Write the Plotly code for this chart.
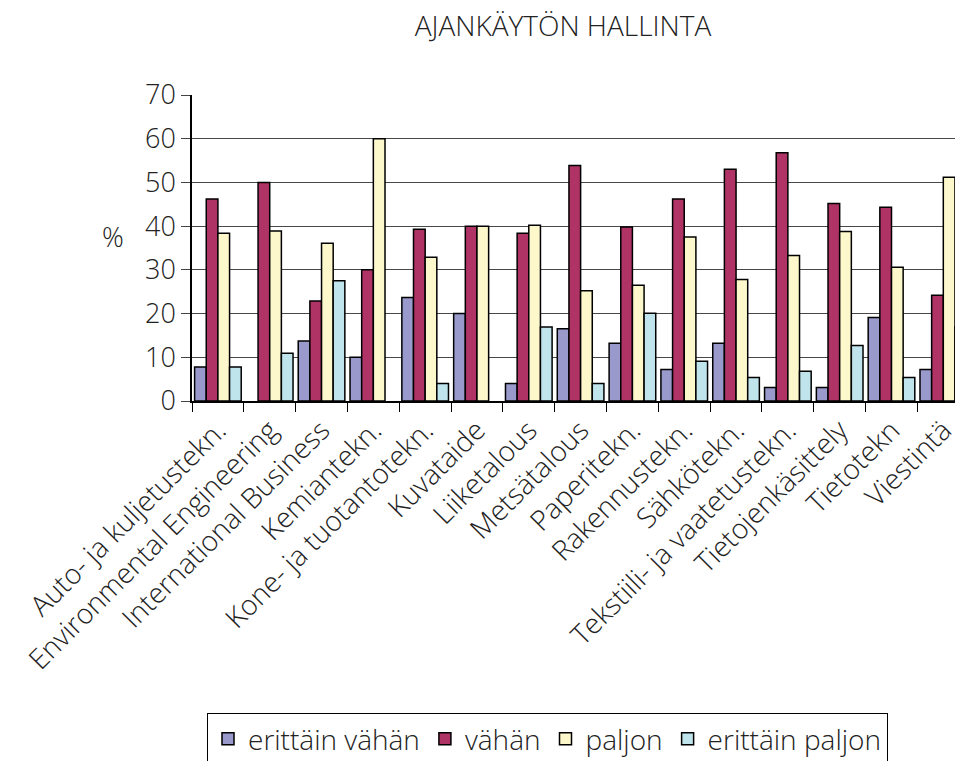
import plotly.graph_objects as go

categories = [
    "Auto- ja kuljetustekn.",
    "Environmental Engineering",
    "International Business",
    "Kemiantekn.",
    "Kone- ja tuotantotekn.",
    "Kuvataide",
    "Liiketalous",
    "Metsätalous",
    "Paperitekn.",
    "Rakennustekn.",
    "Sähkötekn.",
    "Tekstiili- ja vaatetustekn.",
    "Tietojenkäsittely",
    "Tietotekn",
    "Viestintä",
]

# None = no bar drawn (0 %)
erittain_vahan = [7.8, None, 13.7, 10.0, 23.7, 20.0, 4.0, 16.5, 13.2, 7.2, 13.2, 3.1, 3.1, 19.1, 7.2]
vahan = [46.2, 50.0, 22.9, 30.0, 39.3, 40.0, 38.4, 53.9, 39.8, 46.2, 53.0, 56.8, 45.2, 44.3, 24.2]
paljon = [38.4, 38.9, 36.1, 60.0, 32.9, 40.0, 40.2, 25.2, 26.5, 37.5, 27.8, 33.3, 38.8, 30.6, 51.2]
erittain_paljon = [7.8, 10.9, 27.5, None, 4.0, None, 16.9, 4.0, 20.1, 9.1, 5.4, 6.8, 12.7, 5.4, 16.9]

series = [
    ("erittäin vähän", erittain_vahan, "#9999CC"),
    ("vähän", vahan, "#B03366"),
    ("paljon", paljon, "#FDF8CC"),
    ("erittäin paljon", erittain_paljon, "#C0E4EC"),
]

font_family = "Open Sans, Noto Sans, sans-serif"

W, H = 955, 753  # page body adds an 8px offset; figure fills the rest of the window

fig = go.Figure()
for name, vals, color in series:
    fig.add_trace(
        go.Bar(
            x=categories,
            y=vals,
            name=name,
            marker=dict(color=color, line=dict(color="black", width=1.5)),
        )
    )

fig.update_layout(
    width=W,
    height=H,
    margin=dict(l=184, r=0, t=87, b=H - 393, autoexpand=False),
    paper_bgcolor="white",
    plot_bgcolor="white",
    barmode="group",
    bargap=0.1,
    bargroupgap=0,
    font=dict(family=font_family, size=27, color="#222222", weight=300),
    title=dict(
        text="AJANKÄYTÖN HALLINTA",
        x=(563 - 8) / W,
        xref="container",
        xanchor="center",
        y=1 - 18 / H,
        yanchor="middle",
        font=dict(size=28, color="#222222"),
    ),
    showlegend=True,
    legend=dict(
        orientation="h",
        x=(207 - 192) / 771,
        xanchor="left",
        y=-(713 - 401) / 306,
        yanchor="top",
        bordercolor="black",
        borderwidth=1,
        font=dict(size=28),
        traceorder="normal",
        itemwidth=30,
    ),
    annotations=[
        dict(
            text="%",
            xref="paper",
            yref="paper",
            x=(100 - 192) / 771,
            y=(401 - 236) / 306,
            showarrow=False,
            font=dict(size=27),
        )
    ],
)

fig.update_xaxes(
    type="category",
    range=[-0.5, 14.38],
    automargin=False,
    tickangle=-45,
    tickfont=dict(size=28),
    ticks="outside",
    tickson="boundaries",
    ticklen=9,
    tickcolor="black",
    showline=True,
    linecolor="black",
    linewidth=1.5,
    showgrid=False,
)
fig.update_yaxes(
    range=[0, 70],
    dtick=10,
    automargin=False,
    tickfont=dict(size=27),
    ticks="outside",
    ticklen=9,
    tickcolor="#444444",
    showline=True,
    linecolor="black",
    linewidth=1.5,
    showgrid=True,
    gridcolor="#484848",
    gridwidth=1.3,
    zeroline=False,
)

fig.write_html("out.html")
